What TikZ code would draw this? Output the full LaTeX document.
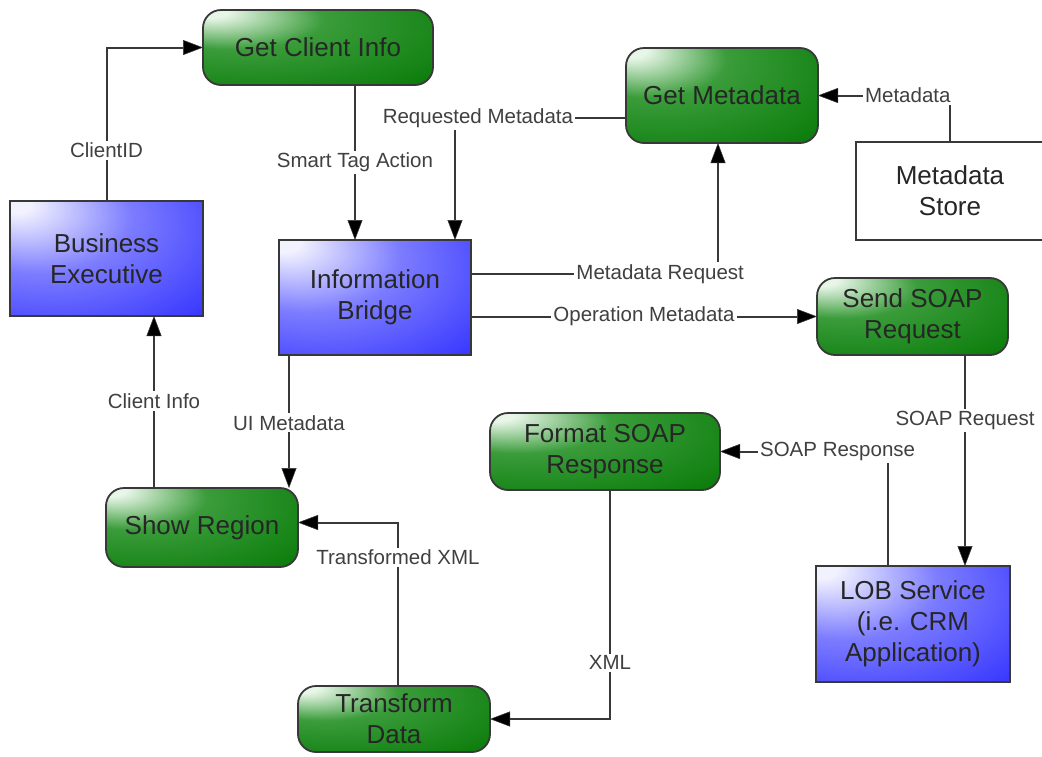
\documentclass[tikz,border=0pt]{standalone}
\usepackage{fontspec}
\setmainfont{Liberation Sans}
\usetikzlibrary{arrows.meta}
\definecolor{gA}{HTML}{E8F6E8}
\definecolor{gB}{HTML}{3A9C3A}
\definecolor{gC}{HTML}{0A7C0A}
\definecolor{bA}{HTML}{F2F2FF}
\definecolor{bB}{HTML}{7C7CFF}
\definecolor{bC}{HTML}{3434FF}
\definecolor{lineC}{HTML}{383838}
\pgfdeclareradialshading{greenfill}{\pgfpoint{-25bp}{25bp}}{color(0bp)=(gA); color(4bp)=(gA); color(20bp)=(gB); color(48bp)=(gC); color(80bp)=(gC)}
\pgfdeclareradialshading{bluefill}{\pgfpoint{-25bp}{25bp}}{color(0bp)=(bA); color(4bp)=(bA); color(24bp)=(bB); color(50bp)=(bC); color(80bp)=(bC)}
\begin{document}
\begin{tikzpicture}[x=1pt,y=-1pt,
  base/.style={draw=lineC, line width=1.8pt, align=center, inner sep=2pt, outer sep=0pt,
    text=black!85, font=\fontsize{26}{31}\selectfont},
  greenbox/.style={base, rounded corners=18pt, shading=greenfill},
  bluebox/.style={base, shading=bluefill},
  storebox/.style={base, fill=white},
  conn/.style={draw=lineC, line width=2pt, -{Triangle[length=20pt,width=15pt,fill=black,line width=0.5pt]}},
  lab/.style={fill=white, inner sep=2pt, text=black!75, font=\fontsize{20.5}{24}\selectfont}]
\useasboundingbox (0,0) rectangle (1042,756);

\node[greenbox, minimum width=230, minimum height=75] (gci) at (318,47.5) {Get Client Info};
\node[greenbox, minimum width=192, minimum height=95] (gm) at (722,95.5) {Get Metadata};
\node[storebox, minimum width=188, minimum height=98] (ms) at (950,191) {Metadata\\Store};
\node[bluebox, minimum width=193, minimum height=115] (be) at (106.5,258.5) {Business\\Executive};
\node[bluebox, minimum width=192, minimum height=115] (ib) at (375,297.5) {Information\\Bridge};
\node[greenbox, minimum width=191, minimum height=77] (ssr) at (912.5,316.5) {Send SOAP\\Request};
\node[greenbox, minimum width=230, minimum height=77] (fsr) at (605,451.5) {Format SOAP\\Response};
\node[greenbox, minimum width=192, minimum height=79] (sr) at (202,527.5) {Show Region};
\node[bluebox, minimum width=194, minimum height=116] (lob) at (913,624) {LOB Service\\(i.e. CRM\\Application)};
\node[greenbox, minimum width=192, minimum height=66] (td) at (394,719) {Transform\\Data};

% ClientID
\draw[conn] (be.north) |- node[lab, pos=0.165] {ClientID} (gci.west);
% Smart Tag Action
\draw[conn] ([xshift=37]gci.south) -- node[lab] {Smart Tag Action} ([xshift=37]gci.south |- ib.north);
% Requested Metadata
\draw[conn] ([yshift=-22.5]gm.west) -| node[lab, pos=0.433] {Requested Metadata} ([xshift=80]ib.north);
% Metadata
\draw[conn] (ms.north) |- node[lab, pos=0.66] {Metadata} (gm.east);
% Metadata Request
\draw[conn] ([yshift=23.5]ib.east) -| node[lab, pos=0.383] {Metadata Request} ([xshift=-4]gm.south);
% Operation Metadata
\draw[conn] (ib.east |- ssr.west) -- node[lab] {Operation Metadata} (ssr.west);
% SOAP Request
\draw[conn] ([xshift=52.5]ssr.south) -- node[lab, pos=0.31] {SOAP Request} ([xshift=52.5]ssr.south |- lob.north);
% SOAP Response
\draw[conn] ([xshift=-25]lob.north) |- node[lab, pos=0.65] {SOAP Response} (fsr.east);
% XML
\draw[conn] ([xshift=5]fsr.south) |- node[lab, pos=0.377] {XML} (td.east);
% Transformed XML
\draw[conn] ([xshift=4]td.north) |- node[lab, pos=0.393] {Transformed XML} ([yshift=5]sr.east);
% UI Metadata
\draw[conn] ([xshift=-86]ib.south) -- node[lab, pos=0.51] {UI Metadata} ([xshift=-86]ib.south |- sr.north);
% Client Info
\draw[conn] ([xshift=-48]sr.north) -- node[lab, pos=0.506] {Client Info} ([xshift=-48]sr.north |- be.south);
\end{tikzpicture}
\end{document}
